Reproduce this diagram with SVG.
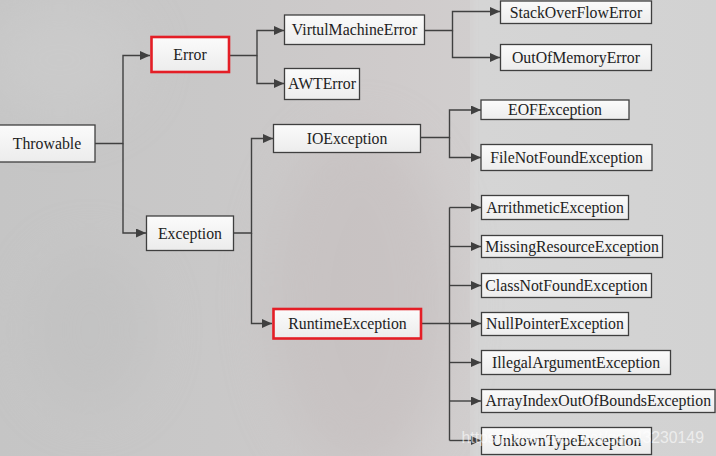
<svg xmlns="http://www.w3.org/2000/svg" width="716" height="456" viewBox="0 0 716 456">
<defs>
<linearGradient id="bg" x1="0" y1="0" x2="1" y2="0">
<stop offset="0" stop-color="#c5c5c5"/>
<stop offset="0.3" stop-color="#c9c8c8"/>
<stop offset="0.55" stop-color="#cfcbcb"/>
<stop offset="0.66" stop-color="#d1cece"/>
<stop offset="0.67" stop-color="#d5d5d5"/>
<stop offset="1" stop-color="#d2d2d2"/>
</linearGradient>
<linearGradient id="boxfill" x1="0" y1="0" x2="0" y2="1">
<stop offset="0" stop-color="#fbfbfb"/>
<stop offset="1" stop-color="#ececec"/>
</linearGradient>
<filter id="blur" x="-50%" y="-50%" width="200%" height="200%"><feGaussianBlur stdDeviation="25"/></filter>
<marker id="arr" markerUnits="userSpaceOnUse" markerWidth="11" markerHeight="10" refX="10" refY="4.5" orient="auto">
<path d="M0,0 L10,4.5 L0,9 z" fill="#404040"/>
</marker>
<style>
.box{fill:url(#boxfill);stroke:#3f3f3f;stroke-width:1.3}
.red{fill:url(#boxfill);stroke:#e41e26;stroke-width:2.6}
.lbl{font-size:15.8px;fill:#222;text-anchor:middle}
.edge{fill:none;stroke:#404040;stroke-width:1.4;marker-end:url(#arr)}
.line{fill:none;stroke:#404040;stroke-width:1.4}
.wm{font-size:15.8px;fill:#ffffff;fill-opacity:0.6}
</style>
</defs>
<rect width="716" height="456" fill="url(#bg)"/>
<g filter="url(#blur)" opacity="0.5">
<ellipse cx="360" cy="300" rx="90" ry="170" fill="#c3bcbc"/>
<ellipse cx="60" cy="60" rx="80" ry="60" fill="#cfcfcf"/>
<ellipse cx="90" cy="330" rx="60" ry="80" fill="#bfbfbf"/>
</g>
<rect x="470" y="0" width="8" height="456" fill="#dadada" opacity="0.4"/>

<g id="connectors">
<path class="edge" d="M95,143.5 H123 V55.5 H150"/>
<path class="edge" d="M123,143.5 V233 H146"/>
<path class="edge" d="M230,55.5 H257 V30.5 H284"/>
<path class="edge" d="M257,55.5 V83.5 H284"/>
<path class="edge" d="M424.5,30.5 H452.5 V11.5 H500"/>
<path class="edge" d="M452.5,30.5 V57.5 H500"/>
<path class="edge" d="M233.5,233 H251.5 V138.5 H273"/>
<path class="edge" d="M251.5,233 V323.5 H272"/>
<path class="edge" d="M420.5,137.5 H449.5 V110 H481"/>
<path class="edge" d="M449.5,137.5 V157.5 H481"/>
<path class="line" d="M449.5,207.5 V440.5"/>
<path class="edge" d="M422,323.5 H481"/>
<path class="edge" d="M449.5,207.5 H481"/>
<path class="edge" d="M449.5,246.5 H481"/>
<path class="edge" d="M449.5,285.5 H481"/>
<path class="edge" d="M449.5,362.5 H481"/>
<path class="edge" d="M449.5,401 H481"/>
<path class="edge" d="M449.5,440.5 H481"/>
</g>

<g font-family="Liberation Serif, Times New Roman, serif">
<g id="throwable"><rect class="box" x="-1" y="125" width="96" height="37"/><text class="lbl" x="47" y="148.8">Throwable</text></g>
<g id="error"><rect class="red" x="151.5" y="37" width="77.5" height="35"/><text class="lbl" x="190" y="59.8">Error</text></g>
<g id="virtualmachineerror"><rect class="box" x="284.5" y="15" width="140" height="29.5"/><text class="lbl" x="354.5" y="35">VirtulMachineError</text></g>
<g id="awterror"><rect class="box" x="284.5" y="68.5" width="75" height="31"/><text class="lbl" x="322" y="89.3">AWTError</text></g>
<g id="stackoverflowerror"><rect class="box" x="500.5" y="1" width="151" height="22.5"/><text class="lbl" x="576" y="17.5">StackOverFlowError</text></g>
<g id="outofmemoryerror"><rect class="box" x="500.5" y="44.5" width="151" height="26"/><text class="lbl" x="576" y="62.8">OutOfMemoryError</text></g>
<g id="ioexception"><rect class="box" x="273.5" y="124.5" width="147" height="28"/><text class="lbl" x="347" y="143.8">IOException</text></g>
<g id="eofexception"><rect class="box" x="481" y="100" width="148" height="19.5"/><text class="lbl" x="555" y="115">EOFException</text></g>
<g id="filenotfoundexception"><rect class="box" x="481" y="144.5" width="171" height="26"/><text class="lbl" x="566.5" y="162.8">FileNotFoundException</text></g>
<g id="exception"><rect class="box" x="146.5" y="216" width="87" height="34.5"/><text class="lbl" x="190" y="238.5">Exception</text></g>
<g id="runtimeexception"><rect class="red" x="273.5" y="309" width="147.5" height="29.5"/><text class="lbl" x="347.5" y="329">RuntimeException</text></g>
<g id="arithmeticexception"><rect class="box" x="481.5" y="195.5" width="147" height="24"/><text class="lbl" x="555" y="212.8">ArrithmeticException</text></g>
<g id="missingresourceexception"><rect class="box" x="481.5" y="235.5" width="181" height="22"/><text class="lbl" x="572" y="251.8">MissingResourceException</text></g>
<g id="classnotfoundexception"><rect class="box" x="481.5" y="273.5" width="170" height="24"/><text class="lbl" x="566.5" y="290.8">ClassNotFoundException</text></g>
<g id="nullpointerexception"><rect class="box" x="481.5" y="312.5" width="147" height="23"/><text class="lbl" x="555" y="329.3">NullPointerException</text></g>
<g id="illegalargumentexception"><rect class="box" x="481.5" y="350.5" width="189" height="24"/><text class="lbl" x="576" y="367.8">IllegalArgumentException</text></g>
<g id="arrayindexoutofboundsexception"><rect class="box" x="481.5" y="389.5" width="233.5" height="23"/><text class="lbl" x="598.3" y="406.3">ArrayIndexOutOfBoundsException</text></g>
<g id="unkowntypeexception"><rect class="box" x="481.5" y="427.5" width="170" height="27"/><text class="lbl" x="566.5" y="446.3">UnkownTypeException</text></g>
</g>

<text class="wm" font-family="Liberation Sans, Arial, sans-serif" x="461.5" y="443">https://blog.csdn.net/qq_43230149</text>
</svg>
